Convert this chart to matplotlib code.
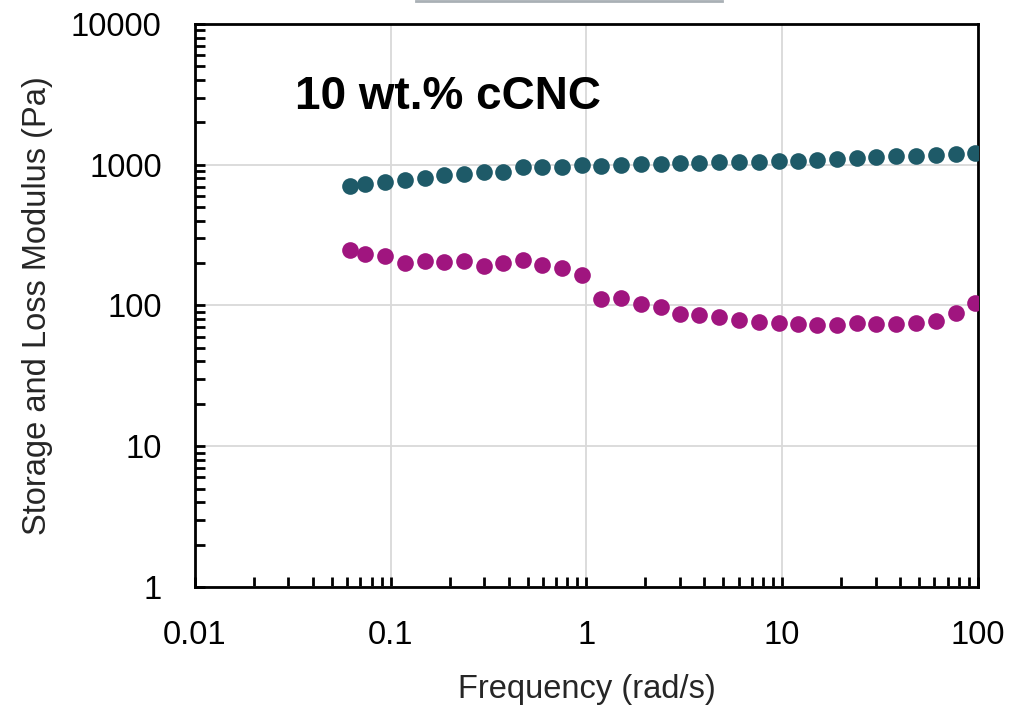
import matplotlib
matplotlib.use('Agg')
import matplotlib.pyplot as plt
from matplotlib.ticker import LogLocator, FixedLocator, NullFormatter
from matplotlib.lines import Line2D

# Frequency (rad/s)
freq = [0.0622, 0.0743, 0.0935, 0.118, 0.149, 0.187, 0.236, 0.298, 0.373, 0.472,
        0.596, 0.750, 0.946, 1.19, 1.50, 1.89, 2.39, 3.00, 3.78, 4.78,
        6.02, 7.59, 9.61, 12.1, 15.1, 19.1, 24.0, 30.3, 38.2, 48.2,
        60.9, 76.9, 96.4]

# Storage modulus G' (Pa)
storage = [701, 724, 757, 773, 800, 849, 863, 892, 892, 957,
           963, 963, 995, 973, 989, 1011, 1016, 1028, 1028, 1038,
           1038, 1045, 1062, 1062, 1073, 1098, 1121, 1134, 1146, 1159,
           1172, 1191, 1211]

# Loss modulus G'' (Pa)
loss = [248, 234, 225, 200, 208, 203, 208, 192, 200, 210,
        194, 185, 165, 111, 113, 102, 97.5, 86.3, 85.5, 82.2,
        79.1, 76.6, 74.5, 73.3, 72.9, 72.9, 75.0, 74.1, 73.8, 75.3,
        77.5, 89.1, 105]

plt.rcParams['font.family'] = ['Liberation Sans', 'DejaVu Sans']

fig = plt.figure(figsize=(10.24, 7.06), dpi=100)
ax = fig.add_axes([0.1904, 0.1686, 0.7646, 0.7974])

ax.plot(freq, storage, 'o', color='#1e5a68', markersize=12, markeredgewidth=0, zorder=3)
ax.plot(freq, loss, 'o', color='#a0157f', markersize=12, markeredgewidth=0, zorder=3)

ax.set_xscale('log')
ax.set_yscale('log')
ax.set_xlim(0.01, 100)
ax.set_ylim(1, 10000)

ax.xaxis.set_major_locator(FixedLocator([0.01, 0.1, 1, 10, 100]))
ax.yaxis.set_major_locator(FixedLocator([1, 10, 100, 1000, 10000]))
ax.set_xticklabels(['0.01', '0.1', '1', '10', '100'])
ax.set_yticklabels(['1', '10', '100', '1000', '10000'])
ax.xaxis.set_minor_locator(LogLocator(base=10, subs=range(2, 10), numticks=20))
ax.yaxis.set_minor_locator(LogLocator(base=10, subs=range(2, 10), numticks=20))
ax.xaxis.set_minor_formatter(NullFormatter())
ax.yaxis.set_minor_formatter(NullFormatter())

ax.tick_params(which='both', direction='in', length=7, width=2, color='black',
               top=False, right=False)
ax.tick_params(which='major', labelsize=23.5, pad=24)

ax.grid(True, which='major', color='#d9d9d9', linewidth=1.3, zorder=0)
ax.set_axisbelow(True)
for s in ax.spines.values():
    s.set_linewidth(2)
    s.set_color('black')

ax.set_xlabel('Frequency (rad/s)', fontsize=23.5, color='#262626', labelpad=16)
ax.set_ylabel('Storage and Loss Modulus (Pa)', fontsize=23.5, color='#262626', labelpad=13)

ax.text(0.128, 0.87, '10 wt.% cCNC', transform=ax.transAxes, fontsize=33,
        fontweight='bold', va='center', ha='left')

# cut-off element at the very top of the picture
fig.add_artist(Line2D([416 / 1024, 722 / 1024], [0.999, 0.999], color='#a9b0b5',
                      linewidth=2, transform=fig.transFigure))

fig.savefig('out.png', dpi=100)
